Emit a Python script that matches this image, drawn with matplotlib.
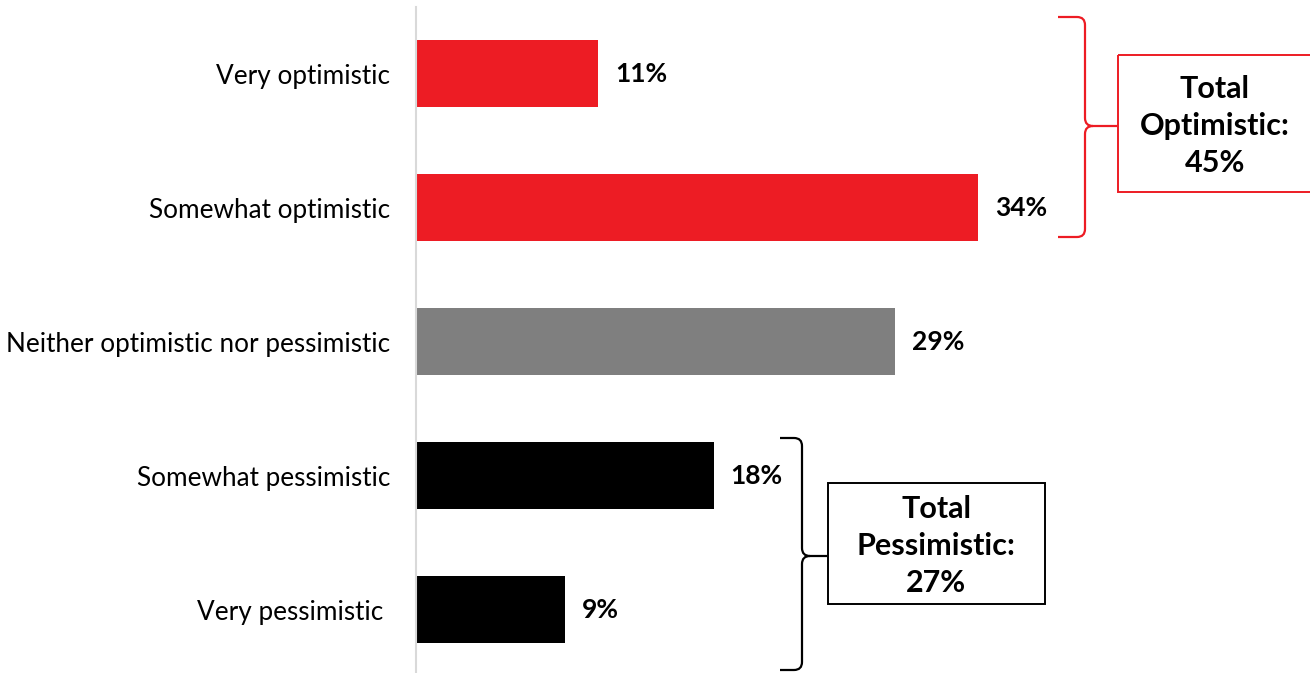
import matplotlib
matplotlib.use("Agg")
import matplotlib.pyplot as plt
from matplotlib.path import Path
from matplotlib.patches import PathPatch, Rectangle

categories = ["Very optimistic", "Somewhat optimistic", "Neither optimistic nor pessimistic",
              "Somewhat pessimistic", "Very pessimistic "]
values = [11, 34, 29, 18, 9]
bar_colors = ["#ED1C24", "#ED1C24", "#7F7F7F", "#000000", "#000000"]
value_labels = ["11%", "34%", "29%", "18%", "9%"]
total_opt_text = "Total\nOptimistic:\n45%"
total_pes_text = "Total\nPessimistic:\n27%"

plt.rcParams['font.family'] = ['Lato', 'DejaVu Sans']

W, H = 1310, 673
fig = plt.figure(figsize=(W / 100, H / 100), dpi=100)
fig.patch.set_facecolor("white")

ax_left, ax_right, ax_top, ax_bot = 416, 1310, 7, 673
ax = fig.add_axes([ax_left / W, 1 - ax_bot / H, (ax_right - ax_left) / W, (ax_bot - ax_top) / H])
ypos = list(range(len(categories)))
ax.barh(ypos, values, height=0.5, color=bar_colors)
ax.set_xlim(0, (ax_right - ax_left) / 16.53)
ax.set_ylim(4.474, -0.5)
ax.set_yticks(ypos)
ax.set_yticklabels(categories, fontsize=18.8, color="#000000")
ax.tick_params(axis="y", length=0, pad=18.5)
ax.set_xticks([])
for s in ["top", "right", "bottom"]:
    ax.spines[s].set_visible(False)
ax.spines["left"].set_color("#D9D9D9")
ax.spines["left"].set_linewidth(1.5)
for y, v, lab in zip(ypos, values, value_labels):
    ax.annotate(lab, (v, y), xytext=(12.2, 0), textcoords="offset points",
                ha="left", va="center", fontsize=19, fontweight="bold", color="#000000")

# overlay in pixel coordinates for brackets and boxes
ov = fig.add_axes([0, 0, 1, 1])
ov.set_xlim(0, W)
ov.set_ylim(H, 0)
ov.axis("off")
ov.patch.set_alpha(0)


def brace(x0, x1, x2, ytop, ymid, ybot, color, r=8):
    verts = [
        (x0, ytop), (x1 - r, ytop), (x1, ytop), (x1, ytop + r),
        (x1, ymid - r), (x1, ymid), (x1 + r, ymid),
        (x2, ymid),
        (x1 + r, ymid), (x1, ymid), (x1, ymid + r),
        (x1, ybot - r), (x1, ybot), (x1 - r, ybot), (x0, ybot),
    ]
    codes = [Path.MOVETO, Path.LINETO, Path.CURVE3, Path.CURVE3,
             Path.LINETO, Path.CURVE3, Path.CURVE3,
             Path.LINETO,
             Path.MOVETO, Path.CURVE3, Path.CURVE3,
             Path.LINETO, Path.CURVE3, Path.CURVE3, Path.LINETO]
    ov.add_patch(PathPatch(Path(verts, codes), fill=False, edgecolor=color, lw=1.6))


brace(1058, 1085, 1117, 17, 126, 237, "#ED1C24")
brace(780, 802, 827, 438, 556, 670, "#000000")

ov.add_patch(Rectangle((1118, 55), 200, 137, fill=False, edgecolor="#ED1C24", lw=1.4))
ov.text(1215, 126, total_opt_text, ha="center", va="center", fontsize=22, fontweight="bold",
        linespacing=1.4, color="#000000")
ov.add_patch(Rectangle((828, 483), 217, 121, fill=False, edgecolor="#000000", lw=1.4))
ov.text(936, 546, total_pes_text, ha="center", va="center", fontsize=22, fontweight="bold",
        linespacing=1.4, color="#000000")

fig.savefig("out.png", dpi=100)
